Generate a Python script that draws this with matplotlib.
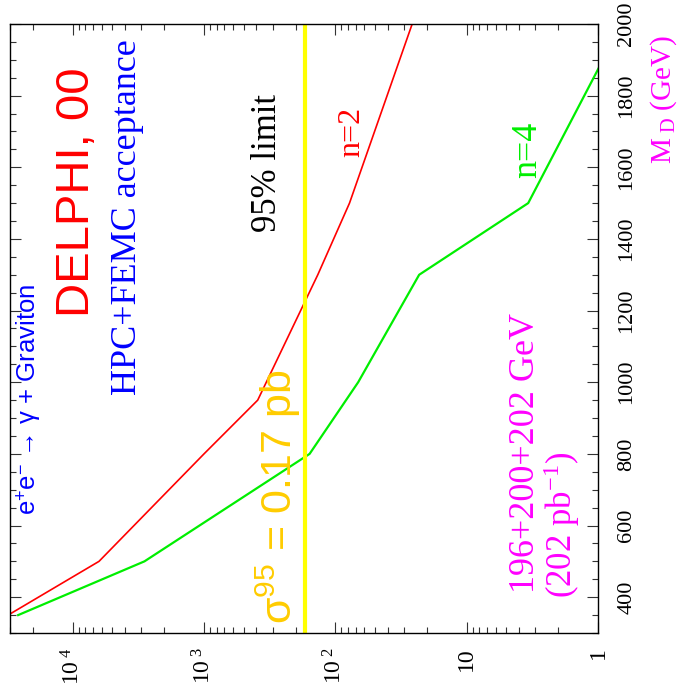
import matplotlib
matplotlib.use("Agg")
import matplotlib.pyplot as plt
from matplotlib.ticker import FixedLocator, FixedFormatter, LogLocator, MultipleLocator

# Cross section limits (fb) versus M_D (GeV)
md_n2 = [350, 500, 800, 950, 1300, 1500, 2000]
sigma_n2 = [31000, 6300, 1000, 390, 136, 78, 26]
md_n4 = [350, 500, 800, 1000, 1300, 1500, 2000]
sigma_n4 = [26000, 2840, 157, 67, 23, 3.4, 0.66]
sigma_limit = 170  # 0.17 pb

xtick_vals = [1, 10, 100, 1000, 10000]
xtick_labels = ["1", "10", "$10^{\\ 2}$", "$10^{\\ 3}$", "$10^{\\ 4}$"]
ytick_vals = [400, 600, 800, 1000, 1200, 1400, 1600, 1800, 2000]

plt.rcParams["font.family"] = ["Liberation Serif", "DejaVu Serif"]
plt.rcParams["mathtext.fontset"] = "custom"
plt.rcParams["mathtext.rm"] = "Liberation Serif"
plt.rcParams["mathtext.it"] = "Liberation Serif:italic"
plt.rcParams["mathtext.sf"] = "Liberation Sans"

W, H = 687, 698
fig = plt.figure(figsize=(W / 100, H / 100), dpi=100)
# frame from x=10..598, y=24..633 in pixels
ax = fig.add_axes([10 / W, 1 - 633 / H, 588 / W, 609 / H])

def fx(px, py):
    return px / W, 1 - py / H

# the whole plot is turned on its side: sigma runs horizontally, M_D vertically
ax.plot(sigma_n2, md_n2, color="#ff0000", lw=1.2)
ax.plot(sigma_n4, md_n4, color="#00ee00", lw=1.6)
ax.axvline(sigma_limit, color="#ffff00", lw=3.0)

ax.set_xscale("log")
ax.set_xlim(30000, 1)
ax.set_ylim(300, 2000)

ax.xaxis.set_major_locator(FixedLocator(xtick_vals))
ax.xaxis.set_major_formatter(FixedFormatter(xtick_labels))
ax.xaxis.set_minor_locator(LogLocator(base=10, subs=range(2, 10), numticks=20))
ax.yaxis.set_major_locator(FixedLocator(ytick_vals))
ax.yaxis.set_minor_locator(MultipleLocator(50))

ax.yaxis.tick_right()
ax.tick_params(which="both", direction="in", top=True, bottom=True, left=True, right=True,
               color="#333333", width=0.8)
ax.tick_params(which="major", length=8)
ax.tick_params(which="minor", length=4)
ax.tick_params(axis="x", which="major", labelsize=17, labelrotation=90, pad=10)
ax.tick_params(axis="y", which="major", labelsize=16, labelrotation=90, pad=14)
for lab in ax.get_yticklabels():
    lab.set_va("center")
for s in ax.spines.values():
    s.set_linewidth(1.0)

# annotations, all rotated with the plot
fig.text(*fx(77, 192), "DELPHI, 00", color="#ff0000", fontsize=34, rotation=90,
         family="Liberation Sans", ha="center", va="center")
fig.text(*fx(128, 217), "HPC+FEMC acceptance", color="#0000ff", fontsize=26, rotation=90,
         ha="center", va="center")
fig.text(*fx(29, 399), "e$^{\\mathsf{+}}$e$^{\\mathsf{-}}$ \u2192 \u03b3 + Graviton", color="#0000ff",
         fontsize=18.5, rotation=90, family="Liberation Sans", ha="center", va="center")
fig.text(*fx(268, 163), "95% limit", color="black", fontsize=25, rotation=90,
         ha="center", va="center")
fig.text(*fx(352, 132), "n=2", color="#ff0000", fontsize=23, rotation=90,
         ha="center", va="center")
fig.text(*fx(528, 150), "n=4", color="#00ee00", fontsize=26, rotation=90,
         ha="center", va="center")
fig.text(*fx(278, 497), "$\\mathsf{\\sigma^{95}}$ = 0.17 pb", color="#ffcc00", fontsize=31,
         rotation=90, family="Liberation Sans", ha="center", va="center")
fig.text(*fx(525, 453), "196+200+202 GeV", color="#ff00ff", fontsize=26, rotation=90,
         ha="center", va="center")
fig.text(*fx(562, 525), "(202 pb$^{-1}$)", color="#ff00ff", fontsize=25, rotation=90,
         ha="center", va="center")
fig.text(*fx(664, 100), "M$_{\\ \\mathrm{D}}$ (GeV)", color="#ff00ff", fontsize=21, rotation=90,
         ha="center", va="center")

fig.savefig("out.png", dpi=100)
